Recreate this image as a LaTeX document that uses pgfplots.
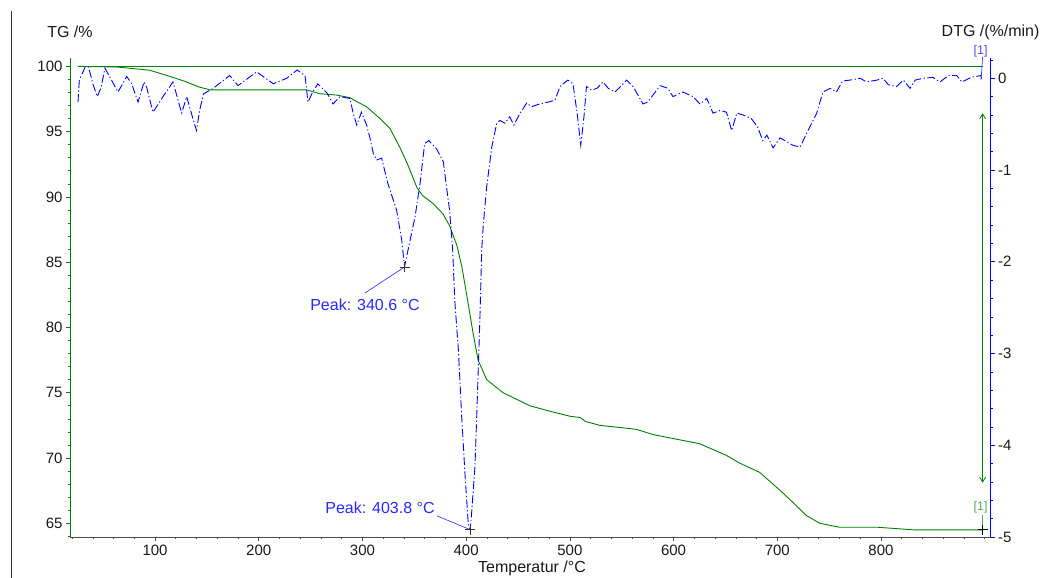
\documentclass[border=0pt]{standalone}
\usepackage{pgfplots}
\pgfplotsset{compat=1.18}
\usepackage{fontspec}
\setmainfont{Liberation Sans}
\usetikzlibrary{arrows.meta}
\definecolor{tggreen}{RGB}{0,128,0}
\definecolor{dtgblue}{RGB}{0,0,255}
\definecolor{annblue}{RGB}{40,40,255}
\definecolor{txt}{RGB}{25,25,25}

\pgfplotstableread{
T TG
25.7 100
63 99.95
82.6 99.8
95 99.7
111.5 99.3
127 98.9
143.3 98.4
153 98.2
208 98.2
246 98.2
259 97.9
275 97.8
288 97.6
291 97.45
304 96.9
317 96.0
326.5 95.25
336 93.8
343 92.6
352.6 90.7
358 90.1
368 89.5
377.6 88.7
384 87.8
391 86.3
396 84.6
400.5 82.5
406.6 79.6
411.5 77.5
419.8 76.0
435.6 75.0
461.5 74.0
480 73.6
500 73.2
510 73.1
515 72.8
529 72.5
564 72.2
580 71.8
599 71.5
625 71.1
651 70.2
664 69.6
683 68.9
703 67.5
715 66.6
728 65.6
741 65.0
760 64.7
796 64.7
831 64.5
898 64.5
}\tgdata

\pgfplotstableread{
T DTG
25.7 -0.26
27 -0.02
32.5 0.12
36 0.12
40 -0.06
44.3 -0.2
48 -0.1
51.7 0.11
56.6 0.01
64.3 -0.15
72.7 0.02
77.5 -0.06
83.6 -0.26
89.4 -0.04
92 -0.1
98 -0.37
107.7 -0.2
117.3 -0.04
125.7 -0.38
130.5 -0.2
135 -0.38
140 -0.57
143 -0.35
146.7 -0.17
156 -0.11
172 0.03
180 -0.08
198 0.07
214 -0.06
227 0
237 0.09
244.6 0.03
247.5 -0.26
252 -0.15
257 -0.06
265.8 -0.16
271.6 -0.28
278.3 -0.2
288 -0.22
291 -0.38
294.5 -0.51
299 -0.37
304 -0.51
307 -0.64
310.5 -0.82
313.8 -0.89
318.5 -0.87
324.6 -1.15
333 -1.44
337.8 -1.76
340.6 -2.05
344 -1.87
350.7 -1.51
355.5 -1.15
360 -0.71
364 -0.68
371.5 -0.77
378 -0.91
381 -1.18
384 -1.44
387 -1.87
389 -2.42
392.5 -2.96
395.7 -3.69
399 -4.34
402 -4.85
403.8 -4.92
405 -4.78
408.5 -4.23
410.7 -3.51
413.3 -2.6
415 -1.87
416.5 -1.6
419.8 -1.18
424.7 -0.75
429.5 -0.49
432.6 -0.46
437.4 -0.49
442 -0.42
446 -0.51
452 -0.38
458.4 -0.27
463 -0.31
471 -0.28
479 -0.26
485.6 -0.24
490.5 -0.09
498 -0.02
503 -0.06
507 -0.38
510.5 -0.73
513.6 -0.42
516 -0.09
521 -0.13
526 -0.11
532 -0.04
537 -0.11
543.5 -0.15
554.8 -0.02
561 -0.09
570.5 -0.28
575 -0.26
587 -0.08
594.6 -0.11
599.4 -0.2
609 -0.15
618.7 -0.2
625.5 -0.28
632 -0.22
638 -0.38
645 -0.35
651 -0.37
656 -0.57
661 -0.38
667 -0.4
675 -0.44
681 -0.53
686 -0.68
690 -0.62
696 -0.76
702.6 -0.65
709 -0.69
715 -0.73
722 -0.75
729.6 -0.57
738 -0.38
744 -0.15
751 -0.11
757 -0.15
763 -0.03
770 -0.02
780 0
786 -0.04
796 -0.02
802 0
807 -0.07
815 -0.09
821.6 -0.02
828 -0.11
833 -0.02
840.6 0
850 0.01
857 -0.04
865 0.03
873 0.03
878 -0.04
887 0.01
896.5 0.03
897 -0.02
}\dtgdata

\pgfplotsset{
  common/.style={
    at={(0pt,0pt)}, anchor=south west,
    scale only axis, width=920.7pt, height=479pt,
    xmin=18, xmax=905.8,
    clip=false,
    tick align=outside,
    major tick length=4pt, minor tick length=2pt,
    /pgf/number format/assume math mode=true,
    ticklabel style={font=\fontsize{15}{18}\selectfont, text=txt},
  }
}

\begin{document}
\begin{tikzpicture}
\path[use as bounding box] (-70pt,-41pt) rectangle (977pt,537pt);

\begin{axis}[common,
  ymin=63.95, ymax=100.64,
  axis x line*=bottom, axis y line*=left,
  xtick={100,200,...,800},
  minor xtick={20,40,...,900},
  ytick={65,70,...,100},
  minor ytick={64,65,...,100},
  x axis line style={draw=black!70, line width=0.8pt},
  y axis line style={draw=tggreen, line width=0.8pt},
  xtick style={draw=black!70, line width=0.6pt},
  ytick style={draw=tggreen, line width=0.6pt},
]
\addplot[tggreen, line width=0.9pt] coordinates {(25.7,100) (898,100)};
\addplot[tggreen, line width=0.9pt] table[x=T, y=TG] {\tgdata};
\addplot[only marks, mark=+, mark size=5pt, black, mark options={line width=0.7pt}] coordinates {(898,64.51)};
\draw[tggreen!70, line width=0.8pt] (axis cs:898,64.6) -- (axis cs:898,65.6);
\node[font=\fontsize{12.5}{14}\selectfont, text=tggreen!65] at (axis cs:896,66.2) {[1]};
\end{axis}

\begin{axis}[common,
  ymin=-5, ymax=0.221,
  axis x line=none, axis y line*=right,
  ytick={-5,-4,...,0},
  minor ytick={-4.8,-4.6,-4.4,-4.2,-3.8,-3.6,-3.4,-3.2,-2.8,-2.6,-2.4,-2.2,-1.8,-1.6,-1.4,-1.2,-0.8,-0.6,-0.4,-0.2,0.2},
  y axis line style={draw=dtgblue, line width=0.8pt},
  ytick style={draw=dtgblue, line width=0.6pt},
]
\addplot[dtgblue, line width=0.9pt, dash pattern=on 8pt off 2.5pt on 1.2pt off 2.5pt] table[x=T, y=DTG] {\dtgdata};
\draw[annblue, line width=0.6pt] (axis cs:302.4,-2.34) -- (axis cs:340.6,-2.057);
\draw[annblue, line width=0.6pt] (axis cs:371.9,-4.77) -- (axis cs:403.8,-4.92);
\addplot[only marks, mark=+, mark size=5pt, black!80, mark options={line width=0.7pt}] coordinates {(340.6,-2.057) (403.8,-4.92)};
\node[font=\fontsize{16}{18}\selectfont, text=annblue] at (axis cs:302.4,-2.47) {Peak: 340.6 °C};
\node[font=\fontsize{16}{18}\selectfont, text=annblue] at (axis cs:316.9,-4.68) {Peak: 403.8 °C};
\draw[dtgblue!75, line width=0.7pt] (axis cs:896.5,-0.02) -- (axis cs:898,0.235);
\node[font=\fontsize{12.5}{14}\selectfont, text=dtgblue!70] at (axis cs:896,0.29) {[1]};
\draw[tggreen, line width=0.8pt, {Straight Barb[length=5pt,width=6pt]}-{Straight Barb[length=5pt,width=6pt]}] (axis cs:898,-0.38) -- (axis cs:898,-4.41);
\end{axis}

\node[font=\fontsize{16}{18}\selectfont, text=txt] at (0pt,505pt) {TG /\%};
\node[font=\fontsize{16}{18}\selectfont, text=txt, anchor=east] at (973pt,505pt) {DTG /(\%/min)};
\node[font=\fontsize{16}{18}\selectfont, text=txt] at (462pt,-31pt) {Temperatur /°C};
\draw[black!80, line width=0.9pt] (-59pt,526pt) -- (-59pt,-41pt);
\end{tikzpicture}
\end{document}
